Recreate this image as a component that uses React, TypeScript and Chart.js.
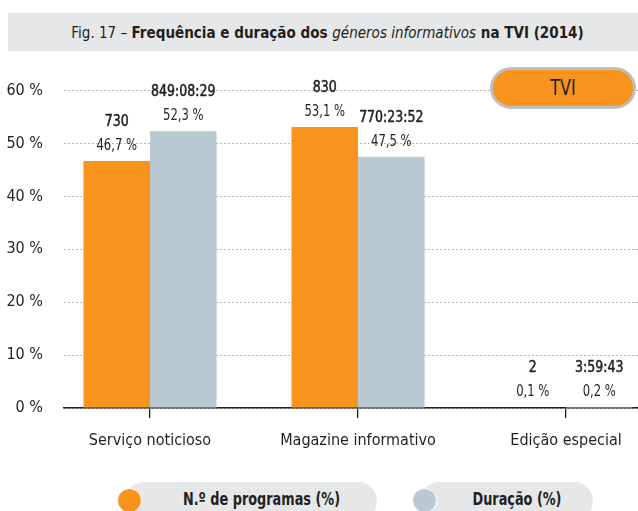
import React, { useEffect, useRef } from "react";
import { Chart, registerables } from "chart.js";

Chart.register(...registerables);

const categories = ["Serviço noticioso", "Magazine informativo", "Edição especial"];
const programasPct = [46.7, 53.1, 0.1];
const duracaoPct = [52.3, 47.5, 0.2];
const programasCount = ["730", "830", "2"];
const duracaoTime = ["849:08:29", "770:23:52", "3:59:43"];
const yTicks = [0, 10, 20, 30, 40, 50, 60];
const seriesNames = ["N.º de programas (%)", "Duração (%)"];

const ORANGE = "#F7941E";
const BLUEGRAY = "#B9C9D1";
const DARK = "#231F20";
const FONT = "'DejaVu Sans Condensed', 'Liberation Sans Narrow', Roboto, sans-serif";

const drawScaled = (ctx: any, text: string, x: number, y: number, sx: number, stroke: number) => {
  ctx.save();
  ctx.translate(x, y);
  ctx.scale(sx, 1);
  ctx.fillText(text, 0, 0);
  if (stroke > 0) {
    ctx.lineWidth = stroke;
    ctx.strokeStyle = DARK;
    ctx.strokeText(text, 0, 0);
  }
  ctx.restore();
};

const labelPlugin = {
  id: "barLabels",
  afterDatasetsDraw(chart: any) {
    const ctx = chart.ctx;
    const tops = [programasCount, duracaoTime];
    const pcts = [programasPct, duracaoPct];
    ctx.save();
    ctx.textAlign = "center";
    ctx.textBaseline = "middle";
    ctx.fillStyle = DARK;
    chart.data.datasets.forEach((ds: any, i: number) => {
      const meta = chart.getDatasetMeta(i);
      meta.data.forEach((el: any, j: number) => {
        const x = el.x;
        const y = el.y;
        ctx.font = `15px ${FONT}`;
        drawScaled(ctx, tops[i][j], x, y - 39, 0.93, 0.5);
        ctx.font = `15px ${FONT}`;
        drawScaled(ctx, pcts[i][j].toFixed(1).replace(".", ",") + " %", x, y - 15, 0.86, 0);
      });
    });
    ctx.restore();
  },
};

export default function App() {
  const ref = useRef<HTMLCanvasElement>(null);
  useEffect(() => {
    if (!ref.current) return;
    const chart = new Chart(ref.current, {
      type: "bar",
      data: {
        datasets: [
          {
            label: seriesNames[0],
            data: programasPct.map((v, i) => ({ x: i, y: v })),
            backgroundColor: ORANGE,
            categoryPercentage: 0.64,
            barPercentage: 1,
          },
          {
            label: seriesNames[1],
            data: duracaoPct.map((v, i) => ({ x: i, y: v })),
            backgroundColor: BLUEGRAY,
            categoryPercentage: 0.64,
            barPercentage: 1,
          },
        ],
      },
      options: {
        animation: false,
        responsive: false,
        maintainAspectRatio: false,
        layout: { padding: { top: 30, left: 0, right: 0, bottom: 0 } },
        plugins: { legend: { display: false }, tooltip: { enabled: false } },
        scales: {
          x: {
            type: "linear",
            offset: false,
            min: -0.4135,
            max: 2.346,
            afterBuildTicks: (s: any) => {
              s.ticks = categories.map((_, i) => ({ value: i }));
            },
            afterFit: (s: any) => {
              s.height = 52;
            },
            ticks: {
              callback: (v: any) => categories[v] ?? "",
              color: DARK,
              font: { family: FONT, size: 16 },
              padding: 13,
              maxRotation: 0,
              autoSkip: false,
            },
            grid: {
              offset: false,
              drawOnChartArea: false,
              drawTicks: true,
              tickLength: 10,
              color: DARK,
              lineWidth: 1.3,
            },
            border: { display: true, color: DARK, width: 1.5 },
          },
          y: {
            min: 0,
            max: 60,
            afterBuildTicks: (s: any) => {
              s.ticks = yTicks.map((v) => ({ value: v }));
            },
            afterFit: (s: any) => {
              s.width = 64;
            },
            ticks: {
              callback: (v: any) => v + " %",
              color: DARK,
              font: { family: FONT, size: 16 },
              padding: 21,
            },
            grid: { color: "#B4B6B8", lineWidth: 1, drawTicks: false },
            border: { display: false, dash: [2, 2] },
          },
        },
      },
      plugins: [labelPlugin],
    });
    return () => chart.destroy();
  }, []);

  return (
    <div
      style={{
        position: "fixed",
        left: 0,
        top: 0,
        width: 638,
        height: 511,
        overflow: "hidden",
        background: "#fff",
        fontFamily: FONT,
        color: DARK,
      }}
    >
      <div
        style={{
          position: "absolute",
          left: 8,
          top: 13,
          width: 630,
          height: 38,
          background: "#E6E7E8",
          display: "flex",
          alignItems: "center",
          justifyContent: "center",
          fontSize: 16,
          whiteSpace: "nowrap",
        }}
      >
        <div style={{ transform: "scaleX(0.94)", marginLeft: 9 }}>
          <span>Fig. 17 –&nbsp;</span>
          <span style={{ fontWeight: "bold" }}>
            Frequência e duração dos <i style={{ fontWeight: "normal" }}>géneros informativos</i> na TVI (2014)
          </span>
        </div>
      </div>
      <canvas
        ref={ref}
        width={638}
        height={400}
        style={{ position: "absolute", left: 0, top: 60, width: 638, height: 400 }}
      />
      <div
        style={{
          position: "absolute",
          left: 490,
          top: 67,
          width: 146,
          height: 42,
          borderRadius: 23,
          background: ORANGE,
          border: "3px solid #BCBEC0",
          boxSizing: "border-box",
          display: "flex",
          alignItems: "center",
          justifyContent: "center",
          fontSize: 21,
        }}
      >
        <span style={{ transform: "scaleX(0.85)", display: "inline-block" }}>TVI</span>
      </div>
      {[
        { left: 125, width: 252, color: ORANGE, text: seriesNames[0] },
        { left: 420, width: 173, color: BLUEGRAY, text: seriesNames[1] },
      ].map((l, i) => (
        <div key={i}>
          <div
            style={{
              position: "absolute",
              left: l.left,
              top: 482,
              width: l.width,
              height: 38,
              borderRadius: 19,
              background: "#E6E7E8",
              display: "flex",
              alignItems: "flex-start",
              justifyContent: "center",
              paddingTop: 7,
              paddingLeft: 20,
              boxSizing: "border-box",
              fontSize: 17,
              fontWeight: "bold",
              whiteSpace: "nowrap",
            }}
          >
            <span style={{ transform: "scaleX(0.84)", display: "inline-block" }}>{l.text}</span>
          </div>
          <div
            style={{
              position: "absolute",
              left: l.left - 8,
              top: 488,
              width: 23,
              height: 23,
              borderRadius: "50%",
              background: l.color,
              border: "1px solid #fff",
            }}
          />
        </div>
      ))}
    </div>
  );
}
